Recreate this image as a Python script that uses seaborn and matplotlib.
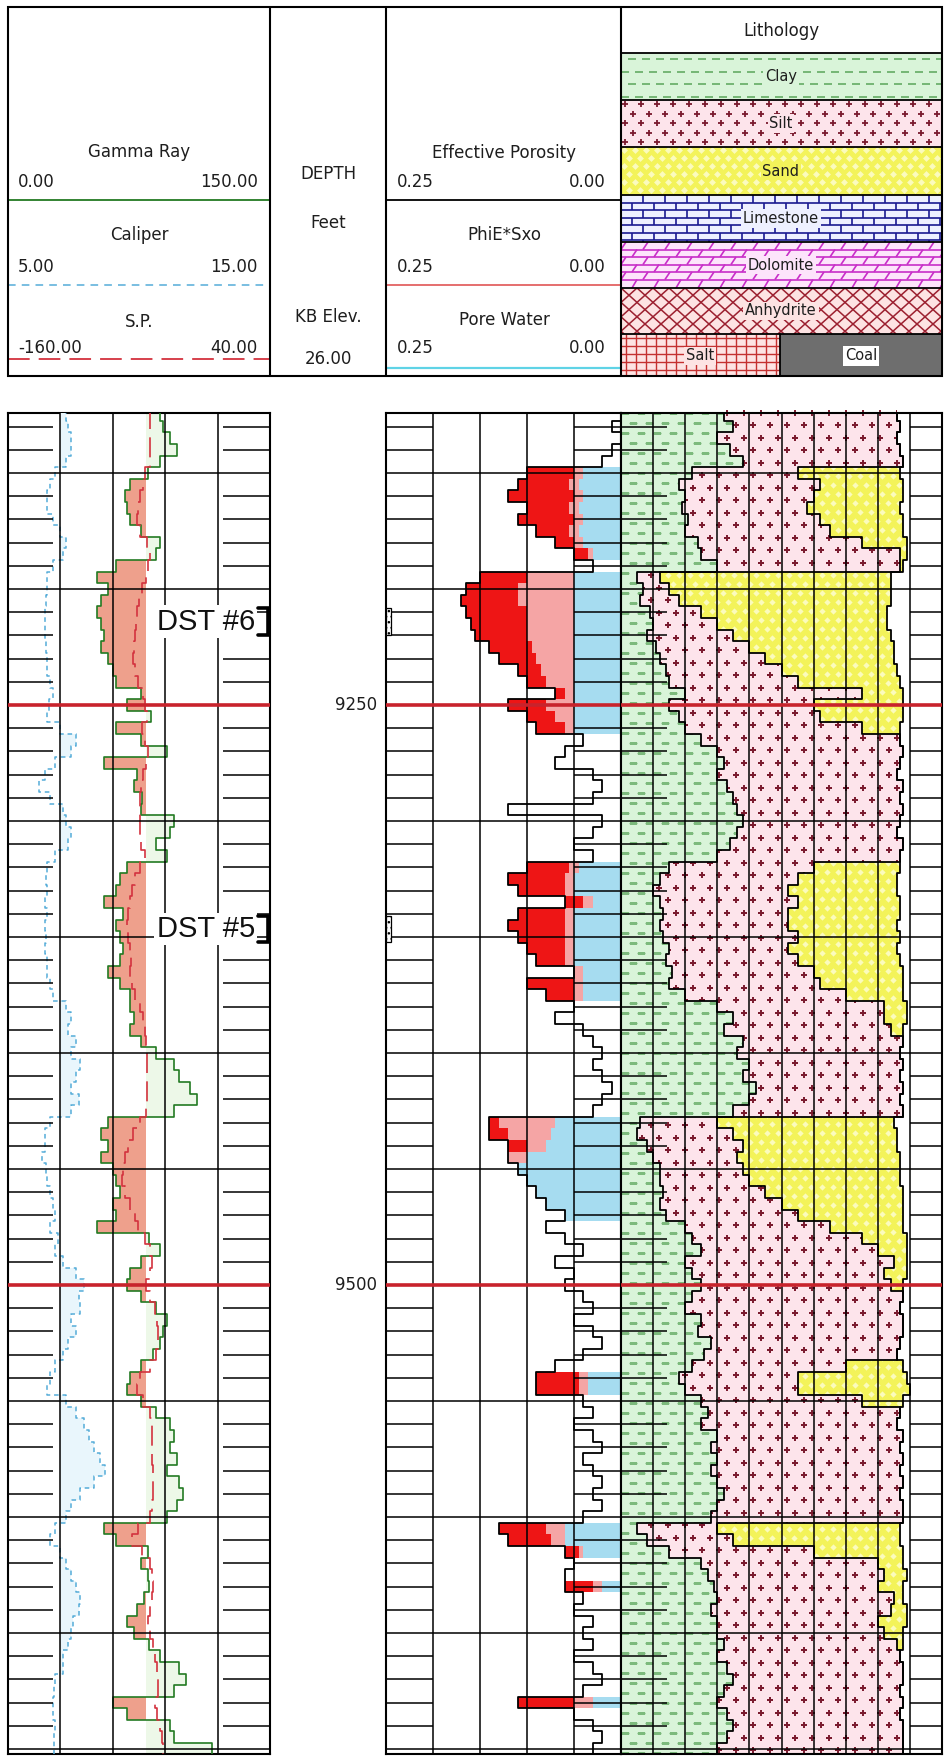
import numpy as np
import matplotlib
matplotlib.use("Agg")
import matplotlib.pyplot as plt
import seaborn as sns
from matplotlib.path import Path
from matplotlib.patches import Rectangle
from matplotlib.collections import LineCollection

sns.set_style("white")
plt.rcParams["font.family"] = ["DejaVu Sans"]

# ------------------------------------------------------------------
# Log samples, one every 5 ft (9125 ... 9700 ft)
# ------------------------------------------------------------------
depth = np.arange(9125, 9701, 5)

gamma_ray = [  # API
    87, 89, 93, 97, 87, 80, 70, 67, 68, 70,
    76, 87, 85, 62, 51, 57, 53, 51, 53, 55,
    53, 57, 60, 62, 76, 68, 82, 62, 76, 91,
    55, 74, 72, 77, 76, 95, 93, 85, 91, 68,
    64, 62, 55, 66, 62, 64, 66, 64, 57, 64,
    70, 70, 72, 70, 76, 85, 95, 98, 104, 108,
    95, 57, 53, 57, 53, 60, 62, 64, 60, 62,
    51, 81, 87, 76, 70, 68, 76, 85, 91, 89,
    87, 83, 76, 70, 68, 76, 85, 93, 95, 93,
    97, 91, 98, 100, 97, 91, 55, 62, 80, 76,
    80, 81, 78, 74, 68, 72, 81, 87, 98, 102,
    95, 60, 68, 93, 95, 117,
]

caliper = [  # inches
    7.2, 7.3, 7.4, 7.4, 7.2, 6.8, 6.6, 6.5, 6.5, 6.7,
    7.0, 7.2, 7.1, 6.7, 6.5, 6.5, 6.45, 6.4, 6.4, 6.4,
    6.45, 6.5, 6.5, 6.6, 6.7, 6.55, 6.5, 7.0, 7.6, 7.4,
    6.8, 6.4, 6.2, 6.6, 7.1, 7.2, 7.4, 7.3, 6.8, 6.5,
    6.45, 6.5, 6.4, 6.5, 6.4, 6.45, 6.4, 6.5, 6.5, 6.6,
    6.7, 7.2, 7.4, 7.3, 7.6, 7.4, 7.75, 7.6, 7.4, 7.7,
    7.4, 6.6, 6.4, 6.4, 6.3, 6.45, 6.5, 6.6, 6.7, 6.8,
    6.6, 6.9, 6.8, 7.1, 7.6, 7.9, 7.7, 7.75, 7.4, 7.6,
    7.3, 7.1, 6.8, 6.6, 6.5, 7.2, 7.6, 7.9, 8.1, 8.3,
    8.5, 8.7, 8.3, 7.75, 7.4, 7.2, 6.8, 6.6, 7.0, 7.2,
    7.4, 7.6, 7.75, 7.7, 7.5, 7.4, 7.3, 7.1, 7.1, 6.8,
    6.75, 6.7, 6.7, 6.8, 6.75, 6.75,
]

sp = [  # mV
    -51.6, -51.6, -51.6, -51.6, -51.6, -55.4, -56.9, -59.2, -60.8, -61.5,
    -59.2, -53.9, -51.6, -53.1, -54.7, -57.7, -60.0, -61.5, -62.3, -63.0,
    -63.8, -64.6, -63.0, -60.8, -56.9, -55.4, -53.9, -57.7, -55.4, -53.1,
    -54.7, -56.9, -58.5, -59.2, -59.2, -59.2, -59.2, -58.5, -55.4, -59.2,
    -63.0, -65.3, -66.9, -68.4, -69.2, -68.4, -66.9, -66.1, -66.9, -65.3,
    -63.0, -59.2, -56.9, -55.4, -54.7, -53.9, -53.9, -53.9, -53.9, -53.9,
    -54.7, -59.2, -64.6, -68.4, -70.7, -72.2, -73.0, -70.7, -66.9, -63.0,
    -60.8, -55.4, -51.6, -50.1, -51.6, -54.7, -51.6, -47.8, -46.3, -45.5,
    -45.5, -47.0, -51.6, -59.2, -61.5, -56.9, -51.6, -50.1, -50.1, -50.1,
    -50.1, -49.3, -49.3, -49.3, -50.1, -51.6, -60.8, -65.3, -57.7, -51.6,
    -50.1, -49.3, -50.1, -51.6, -53.1, -51.6, -49.3, -47.8, -46.3, -45.5,
    -45.5, -47.8, -46.3, -44.0, -42.4, -41.7,
]

phie = [  # effective porosity, v/v
    0.00, 0.01, 0.00, 0.01, 0.02, 0.10, 0.11, 0.12, 0.10, 0.11,
    0.09, 0.07, 0.05, 0.03, 0.15, 0.165, 0.17, 0.165, 0.16, 0.155,
    0.14, 0.13, 0.11, 0.10, 0.07, 0.12, 0.10, 0.09, 0.04, 0.06,
    0.07, 0.03, 0.02, 0.03, 0.12, 0.02, 0.03, 0.05, 0.03, 0.10,
    0.12, 0.11, 0.06, 0.11, 0.12, 0.11, 0.10, 0.09, 0.05, 0.10,
    0.08, 0.05, 0.07, 0.04, 0.03, 0.02, 0.03, 0.02, 0.01, 0.02,
    0.03, 0.14, 0.14, 0.12, 0.12, 0.11, 0.10, 0.09, 0.08, 0.06,
    0.08, 0.06, 0.04, 0.07, 0.05, 0.06, 0.04, 0.03, 0.05, 0.03,
    0.02, 0.04, 0.07, 0.09, 0.09, 0.04, 0.03, 0.05, 0.03, 0.02,
    0.04, 0.03, 0.02, 0.03, 0.02, 0.04, 0.13, 0.12, 0.06, 0.05,
    0.06, 0.06, 0.04, 0.05, 0.03, 0.04, 0.03, 0.05, 0.03, 0.02,
    0.04, 0.11, 0.05, 0.03, 0.02, 0.03,
]

phie_sxo = [  # PhiE * Sxo
    0, 0, 0, 0, 0, 0.05, 0.055, 0.05, 0.055, 0.05,
    0.055, 0.05, 0.035, 0, 0.10, 0.11, 0.11, 0.10, 0.10, 0.10,
    0.095, 0.09, 0.085, 0.08, 0.06, 0.08, 0.07, 0.06, 0, 0,
    0, 0, 0, 0, 0, 0, 0, 0, 0, 0.055,
    0.06, 0.06, 0.04, 0.06, 0.06, 0.06, 0.06, 0.06, 0.05, 0.05,
    0.05, 0, 0, 0, 0, 0, 0, 0, 0, 0,
    0, 0.13, 0.12, 0.10, 0.12, 0.11, 0.10, 0.09, 0.08, 0.06,
    0, 0, 0, 0, 0, 0, 0, 0, 0, 0,
    0, 0, 0, 0.045, 0.045, 0, 0, 0, 0, 0,
    0, 0, 0, 0, 0, 0, 0.08, 0.075, 0.045, 0,
    0, 0.03, 0, 0, 0, 0, 0, 0, 0, 0,
    0, 0.05, 0, 0, 0, 0,
]

pore_water = [  # bulk volume water
    0, 0, 0, 0, 0, 0.04, 0.045, 0.04, 0.045, 0.04,
    0.045, 0.04, 0.03, 0, 0.05, 0.05, 0.05, 0.05, 0.05, 0.05,
    0.05, 0.05, 0.05, 0.05, 0.05, 0.05, 0.05, 0.05, 0, 0,
    0, 0, 0, 0, 0, 0, 0, 0, 0, 0.045,
    0.05, 0.05, 0.03, 0.05, 0.05, 0.05, 0.05, 0.05, 0.04, 0.04,
    0.04, 0, 0, 0, 0, 0, 0, 0, 0, 0,
    0, 0.07, 0.075, 0.08, 0.10, 0.11, 0.10, 0.09, 0.08, 0.06,
    0, 0, 0, 0, 0, 0, 0, 0, 0, 0,
    0, 0, 0, 0.035, 0.035, 0, 0, 0, 0, 0,
    0, 0, 0, 0, 0, 0, 0.06, 0.06, 0.04, 0,
    0, 0.02, 0, 0, 0, 0, 0, 0, 0, 0,
    0, 0.03, 0, 0, 0, 0,
]

# cumulative lithology fractions (clay, clay+silt, clay+silt+sand)
clay_top = [
    .32, .35, .30, .34, .38, .22, .18, .20, .19, .21,
    .20, .24, .25, .30, .05, .07, .06, .09, .10, .08,
    .11, .12, .14, .15, .20, .15, .18, .20, .25, .30,
    .32, .30, .33, .35, .36, .38, .36, .34, .30, .15,
    .12, .10, .12, .13, .12, .13, .15, .14, .16, .15,
    .20, .30, .35, .32, .38, .36, .40, .38, .42, .40,
    .35, .06, .05, .08, .10, .12, .12, .13, .12, .14,
    .20, .22, .25, .20, .22, .25, .22, .20, .25, .24,
    .28, .26, .22, .18, .20, .25, .27, .25, .30, .28,
    .30, .28, .30, .32, .30, .28, .05, .08, .15, .25,
    .27, .29, .30, .28, .30, .30, .32, .30, .33, .35,
    .32, .30, .33, .35, .33, .30,
]
silt_top = [
    .86, .87, .86, .87, .88, .55, .62, .60, .58, .62,
    .65, .75, .87, .87, .12, .15, .18, .25, .30, .35,
    .40, .45, .50, .55, .75, .60, .62, .75, .87, .88,
    .87, .86, .88, .87, .88, .87, .86, .88, .87, .60,
    .55, .52, .55, .52, .52, .55, .52, .55, .60, .62,
    .70, .82, .82, .84, .88, .87, .88, .87, .88, .87,
    .88, .30, .35, .38, .36, .38, .40, .45, .50, .55,
    .65, .75, .80, .85, .82, .84, .88, .87, .88, .88,
    .87, .86, .70, .55, .55, .75, .87, .86, .88, .87,
    .88, .87, .88, .87, .88, .88, .30, .35, .60, .80,
    .82, .80, .85, .84, .80, .82, .86, .87, .88, .88,
    .87, .88, .87, .88, .88, .88,
]
sand_top = [
    .86, .87, .86, .87, .88, .87, .88, .88, .87, .88,
    .88, .89, .89, .88, .84, .84, .84, .83, .83, .84,
    .85, .85, .86, .87, .88, .88, .88, .87, .87, .88,
    .87, .86, .88, .87, .88, .87, .86, .88, .87, .87,
    .86, .86, .87, .87, .86, .87, .86, .87, .88, .88,
    .88, .89, .89, .88, .88, .87, .88, .87, .88, .87,
    .88, .85, .86, .86, .87, .87, .87, .88, .88, .88,
    .88, .89, .89, .89, .89, .88, .88, .87, .88, .88,
    .87, .86, .88, .89, .90, .88, .87, .86, .88, .87,
    .88, .87, .88, .87, .88, .88, .87, .87, .88, .88,
    .89, .88, .88, .89, .89, .88, .88, .87, .88, .88,
    .87, .88, .87, .88, .88, .88,
]

gr_cutoff = 79.0
bit_size = 7.0
marker_depths = [9250, 9500]
major_depths = list(range(9150, 9701, 50))
minor_depths = [d for d in range(9130, 9701, 10) if d % 50]
dst_names = ["DST #6", "DST #5"]
dst_top = [9208, 9341]
dst_base = [9220, 9352]

GR_COL, CAL_COL, SP_COL = "#237a22", "#55acd8", "#d3323e"
SAND_HC, BVW_COL, MOVED_COL, RESID_COL = "#eea08c", "#a6dcf0", "#f5a5a5", "#ee1515"
CLAY_BG, CLAY_MK = "#d9f4d9", "#7cba7c"
SILT_BG, SILT_MK = "#fde4eb", "#7a1a2e"
SAND_BG, SAND_MK = "#f3f35a", "#fbfbbd"

# ------------------------------------------------------------------
# Figure and track axes (pixel layout)
# ------------------------------------------------------------------
W, H = 948, 1764
D_TOP, D_BOT = 9124.1, 9702.2
PX_FT, LIT_PX = 2.32, 321.0

fig = plt.figure(figsize=(W / 100, H / 100), dpi=100)


def px_axes(x0, y0, x1, y1):
    return fig.add_axes([x0 / W, 1 - y1 / H, (x1 - x0) / W, (y1 - y0) / H])


ax_gr = px_axes(8, 413, 270, 1754)
ax_dep = px_axes(270, 413, 386, 1754)
ax_por = px_axes(386, 413, 621, 1754)
ax_lit = px_axes(621, 413, 942, 1754)
ax_cal = ax_gr.twiny()
ax_sp = ax_gr.twiny()

half = 2.5
ystep = np.column_stack([depth - half, depth + half]).ravel()


def stepped(v):
    return np.repeat(np.asarray(v, dtype=float), 2)


def curve(ax, vals, color, lw, zorder=3, dashes=None):
    sns.lineplot(x=vals, y=ystep, ax=ax, orient="y", sort=False,
                 estimator=None, errorbar=None, color=color,
                 linewidth=lw, zorder=zorder)
    line = ax.lines[-1]
    if dashes:
        line.set_dashes(dashes)
    return line


# ---- track 1: gamma ray / caliper / SP ----
g = stepped(gamma_ray)
ax_gr.fill_betweenx(ystep, g, gr_cutoff, where=g < gr_cutoff,
                    color=SAND_HC, lw=0, zorder=1)
ax_gr.fill_betweenx(ystep, g, gr_cutoff, where=g >= gr_cutoff,
                    color="#edf8e8", lw=0, zorder=1)
curve(ax_gr, g, GR_COL, 1.2)

c = stepped(caliper)
ax_cal.fill_betweenx(ystep, bit_size, c, where=c > bit_size,
                     color="#e9f6fc", lw=0, zorder=1)
curve(ax_cal, c, CAL_COL, 1.1, dashes=[3, 2.5])

s = stepped(sp)
curve(ax_sp, s, SP_COL, 1.2, dashes=[12, 5])

# ---- track 2: porosity ----
pw, sx, pe = stepped(pore_water), stepped(phie_sxo), stepped(phie)
ax_por.fill_betweenx(ystep, 0, pw, where=pw > 0, color=BVW_COL, lw=0, zorder=1)
ax_por.fill_betweenx(ystep, pw, sx, where=sx > pw, color=MOVED_COL, lw=0, zorder=1)
ax_por.fill_betweenx(ystep, sx, pe, where=(sx > 0) & (pe > sx),
                     color=RESID_COL, lw=0, zorder=1)
curve(ax_por, pe, "black", 1.3)

# ---- track 3: lithology ----
ct, st, dt = stepped(clay_top), stepped(silt_top), stepped(sand_top)
clay_poly = ax_lit.fill_betweenx(ystep, 0, ct, color=CLAY_BG, lw=0, zorder=1)
silt_poly = ax_lit.fill_betweenx(ystep, ct, st, where=st > ct, color=SILT_BG, lw=0, zorder=1)
sand_poly = ax_lit.fill_betweenx(ystep, st, dt, where=dt > st, color=SAND_BG, lw=0, zorder=1)


def lattice(dx, dy, x0, x1, y0, y1):
    pts = []
    for i, yy in enumerate(np.arange(y0, y1 + dy, dy)):
        xx = np.arange(x0 + dx * (0.25 + 0.5 * (i % 2)), x1, dx)
        pts.append(np.column_stack([xx, np.full(xx.size, yy)]))
    return np.vstack(pts)


def clipped_markers(ax, poly, pts, **kw):
    paths = poly.get_paths()
    if not paths:
        return
    ln, = ax.plot(pts[:, 0], pts[:, 1], ls="none", zorder=1.5, **kw)
    ln.set_clip_path(Path.make_compound_path(*paths), ax.transData)


clipped_markers(ax_lit, clay_poly,
                lattice(16 / LIT_PX, 10 / PX_FT, 0, 1, D_TOP, D_BOT),
                marker="_", ms=5.5, mew=1.0, color=CLAY_MK)
clipped_markers(ax_lit, silt_poly,
                lattice(17 / LIT_PX, 12.5 / PX_FT, 0, 1, D_TOP, D_BOT),
                marker="+", ms=4.8, mew=1.4, color=SILT_MK)
clipped_markers(ax_lit, sand_poly,
                lattice(11 / LIT_PX, 9 / PX_FT, 0, 1, D_TOP, D_BOT),
                marker="D", ms=3.2, mew=0, color=SAND_MK)
for arr in (ct, st, dt):
    curve(ax_lit, arr, "black", 1.3)


# ---- grids ----
def track_grid(ax, cols, tick_spans):
    tr = ax.get_yaxis_transform()
    segs = [[(f, D_TOP), (f, D_BOT)] for f in cols]
    segs += [[(0, d), (1, d)] for d in major_depths if d not in marker_depths]
    segs += [[(a, d), (b, d)] for d in minor_depths for a, b in tick_spans]
    ax.add_collection(LineCollection(segs, colors="black", linewidths=1.1,
                                     transform=tr, zorder=4), autolim=False)
    ax.add_collection(LineCollection([[(0, d), (1, d)] for d in marker_depths],
                                     colors="#c8232c", linewidths=2.6,
                                     transform=tr, zorder=5), autolim=False)


track_grid(ax_sp, [0.2, 0.4, 0.6, 0.8], [(0, 45 / 262), (215 / 262, 1)])
track_grid(ax_por, [0.2, 0.4, 0.6, 0.8], [(0, 0.2), (0.8, 1)])
track_grid(ax_lit, [i / 10 for i in range(1, 10)], [(0, 0.143), (0.9, 1)])

# ---- DST intervals ----
tr = ax_sp.get_yaxis_transform()
for name, t, b in zip(dst_names, dst_top, dst_base):
    mid = (t + b) / 2
    ax_sp.text(0.943, mid, name, transform=tr, ha="right", va="center",
               fontsize=21, family=["Liberation Sans", "DejaVu Sans"],
               color="#111111", zorder=8,
               bbox=dict(boxstyle="square,pad=0.08", fc="white", ec="none"))
    ax_sp.plot([0.956, 0.993, 0.993, 0.956], [t, t, b, b], transform=tr,
               color="black", lw=2.6, zorder=9, solid_joinstyle="miter")
    ax_por.add_patch(Rectangle((0.25, t), -0.0055, b - t, fc="white", ec="black",
                               lw=0.9, hatch="...", zorder=6))

# ---- depth labels ----
ax_dep.set_axis_off()
for d in marker_depths:
    ax_dep.text(0.922, d, f"{d}", transform=ax_dep.get_yaxis_transform(),
                ha="right", va="center", fontsize=12, color="#1e1e1e")

# ---- limits, frames ----
ax_gr.set_xlim(0, 150)
ax_cal.set_xlim(5, 15)
ax_sp.set_xlim(-160, 40)
ax_por.set_xlim(0.25, 0)
ax_lit.set_xlim(0, 1)
for ax in (ax_gr, ax_dep, ax_por, ax_lit):
    ax.set_ylim(D_BOT, D_TOP)
for ax in (ax_cal, ax_sp):
    ax.set_axis_off()
for ax in (ax_gr, ax_por, ax_lit):
    ax.set_xticks([])
    ax.set_yticks([])
    ax.set_xlabel("")
    ax.set_ylabel("")
    for spn in ax.spines.values():
        spn.set_visible(True)
        spn.set_linewidth(1.5)
        spn.set_color("black")

# ------------------------------------------------------------------
# Header block
# ------------------------------------------------------------------
ax_h = fig.add_axes([0, 0, 1, 1])
ax_h.set_xlim(0, W)
ax_h.set_ylim(H, 0)
ax_h.set_axis_off()
HT, HB = 7, 376
X0, X1 = 621, 942

ax_h.add_patch(Rectangle((8, HT), 934, HB - HT, fill=False, ec="black", lw=1.5, zorder=6))
for x in (270, 386, 621):
    ax_h.plot([x, x], [HT, HB], color="black", lw=1.5, zorder=6)


def htext(x, y, s, ha="center", fs=12, **kw):
    ax_h.text(x, y, s, ha=ha, va="center", fontsize=fs, color="#1e1e1e", zorder=5, **kw)


htext(139, 152, "Gamma Ray")
htext(18, 182, "0.00", ha="left")
htext(258, 182, "150.00", ha="right")
htext(139, 235, "Caliper")
htext(18, 267, "5.00", ha="left")
htext(258, 267, "15.00", ha="right")
htext(139, 322, "S.P.")
htext(18, 348, "-160.00", ha="left")
htext(258, 348, "40.00", ha="right")
ax_h.plot([8, 270], [200, 200], color=GR_COL, lw=1.3)
ax_h.plot([8, 270], [285, 285], color=CAL_COL, lw=1.1)[0].set_dashes([5, 4])
ax_h.plot([8, 270], [359, 359], color=SP_COL, lw=1.3)[0].set_dashes([12, 5])

htext(328, 174, "DEPTH")
htext(328, 223, "Feet")
htext(328, 317, "KB Elev.")
htext(328, 359, "26.00")

htext(504, 153, "Effective Porosity")
htext(397, 182, "0.25", ha="left")
htext(606, 182, "0.00", ha="right")
htext(504, 235, "PhiE*Sxo")
htext(397, 267, "0.25", ha="left")
htext(606, 267, "0.00", ha="right")
htext(504, 320, "Pore Water")
htext(397, 348, "0.25", ha="left")
htext(606, 348, "0.00", ha="right")
ax_h.plot([386, 621], [200, 200], color="black", lw=1.3)
ax_h.plot([386, 621], [285, 285], color="#e05555", lw=1.2)
ax_h.plot([386, 621], [368, 368], color="#5fd3e6", lw=1.6)

htext(781, 31, "Lithology")


def cell(x0, y0, x1, y1, fc):
    ax_h.add_patch(Rectangle((x0, y0), x1 - x0, y1 - y0, fc=fc, ec="none", zorder=1))
    return Rectangle((x0, y0), x1 - x0, y1 - y0, transform=ax_h.transData)


def seg_pattern(segs, color, lw, clip):
    lc = LineCollection(segs, colors=color, linewidths=lw, zorder=2)
    ax_h.add_collection(lc, autolim=False)
    lc.set_clip_path(clip)


def pt_pattern(pts, clip, **kw):
    ln, = ax_h.plot(pts[:, 0], pts[:, 1], ls="none", zorder=2, **kw)
    ln.set_clip_path(clip)


def bricks(x0, y0, x1, y1, row_h, brick_w, slant):
    bounds = list(np.arange(y0 + row_h, y1 - 1, row_h))
    segs = [[(x0, b), (x1, b)] for b in bounds]
    edges = [y0] + bounds + [y1]
    for i in range(len(edges) - 1):
        ya, yb = edges[i], edges[i + 1]
        off = (brick_w / 2) * (i % 2)
        for x in np.arange(x0 - brick_w + off, x1 + brick_w, brick_w):
            segs.append([(x, yb), (x + slant, ya)])
    return segs


lith_rows = [("Clay", 53, 100, CLAY_BG), ("Silt", 100, 147, SILT_BG),
             ("Sand", 147, 195, SAND_BG), ("Limestone", 195, 242, "#eef0ff"),
             ("Dolomite", 242, 288, "#fde4fb"), ("Anhydrite", 288, 334, "#fde3e3")]

# clay
clip = cell(X0, 53, X1, 100, CLAY_BG)
segs = []
for i, y in enumerate(np.arange(59, 100, 12.5)):
    for x in np.arange(X0 - 7 + 7 * (i % 2), X1, 14):
        segs.append([(x, y), (x + 8, y)])
seg_pattern(segs, "#5aa55a", 1.1, clip)
# silt
clip = cell(X0, 100, X1, 147, SILT_BG)
pt_pattern(lattice(16, 9.5, X0, X1, 104, 147), clip, marker="+", ms=4.5, mew=1.3, color=SILT_MK)
# sand
clip = cell(X0, 147, X1, 195, SAND_BG)
pt_pattern(lattice(11, 8, X0, X1, 150, 195), clip, marker="D", ms=3.5, mew=0, color=SAND_MK)
# limestone
clip = cell(X0, 195, X1, 242, "#eef0ff")
seg_pattern(bricks(X0, 195, X1, 242, 7.5, 22, 0), "#1a1a90", 1.2, clip)
# dolomite
clip = cell(X0, 242, X1, 288, "#fde4fb")
seg_pattern(bricks(X0, 242, X1, 288, 7.5, 22, 5), "#c82ec8", 1.2, clip)
# anhydrite
clip = cell(X0, 288, X1, 334, "#fde3e3")
segs = []
span = (334 - 288) / 0.9
for cx in np.arange(X0 - 80, X1 + 80, 16):
    segs.append([(cx, 288), (cx + span, 334)])
    segs.append([(cx, 288), (cx - span, 334)])
seg_pattern(segs, "#9c2030", 1.1, clip)
# salt
clip = cell(X0, 334, 780, HB, "#fde3e3")
segs = [[(x, 334), (x, HB)] for x in np.arange(X0 + 5, 780, 10)]
segs += [[(X0, y), (780, y)] for y in np.arange(338, HB, 8)]
seg_pattern(segs, "#c43030", 1.0, clip)
# coal
cell(780, 334, X1, HB, "#6e6e6e")

for y in (53, 100, 147, 195, 242, 288, 334):
    ax_h.plot([X0, X1], [y, y], color="black", lw=1.3, zorder=4)
ax_h.plot([780, 780], [334, HB], color="black", lw=1.3, zorder=4)

for name, y0, y1, bg in lith_rows:
    htext(781, (y0 + y1) / 2, name, fs=10.5,
          bbox=dict(boxstyle="square,pad=0.12", fc=bg, ec="none"))
htext(700, 356, "Salt", fs=10.5, bbox=dict(boxstyle="square,pad=0.12", fc="#fde3e3", ec="none"))
htext(861, 356, "Coal", fs=10.5, bbox=dict(boxstyle="square,pad=0.15", fc="white", ec="none"))

fig.savefig("out.png", dpi=100)
